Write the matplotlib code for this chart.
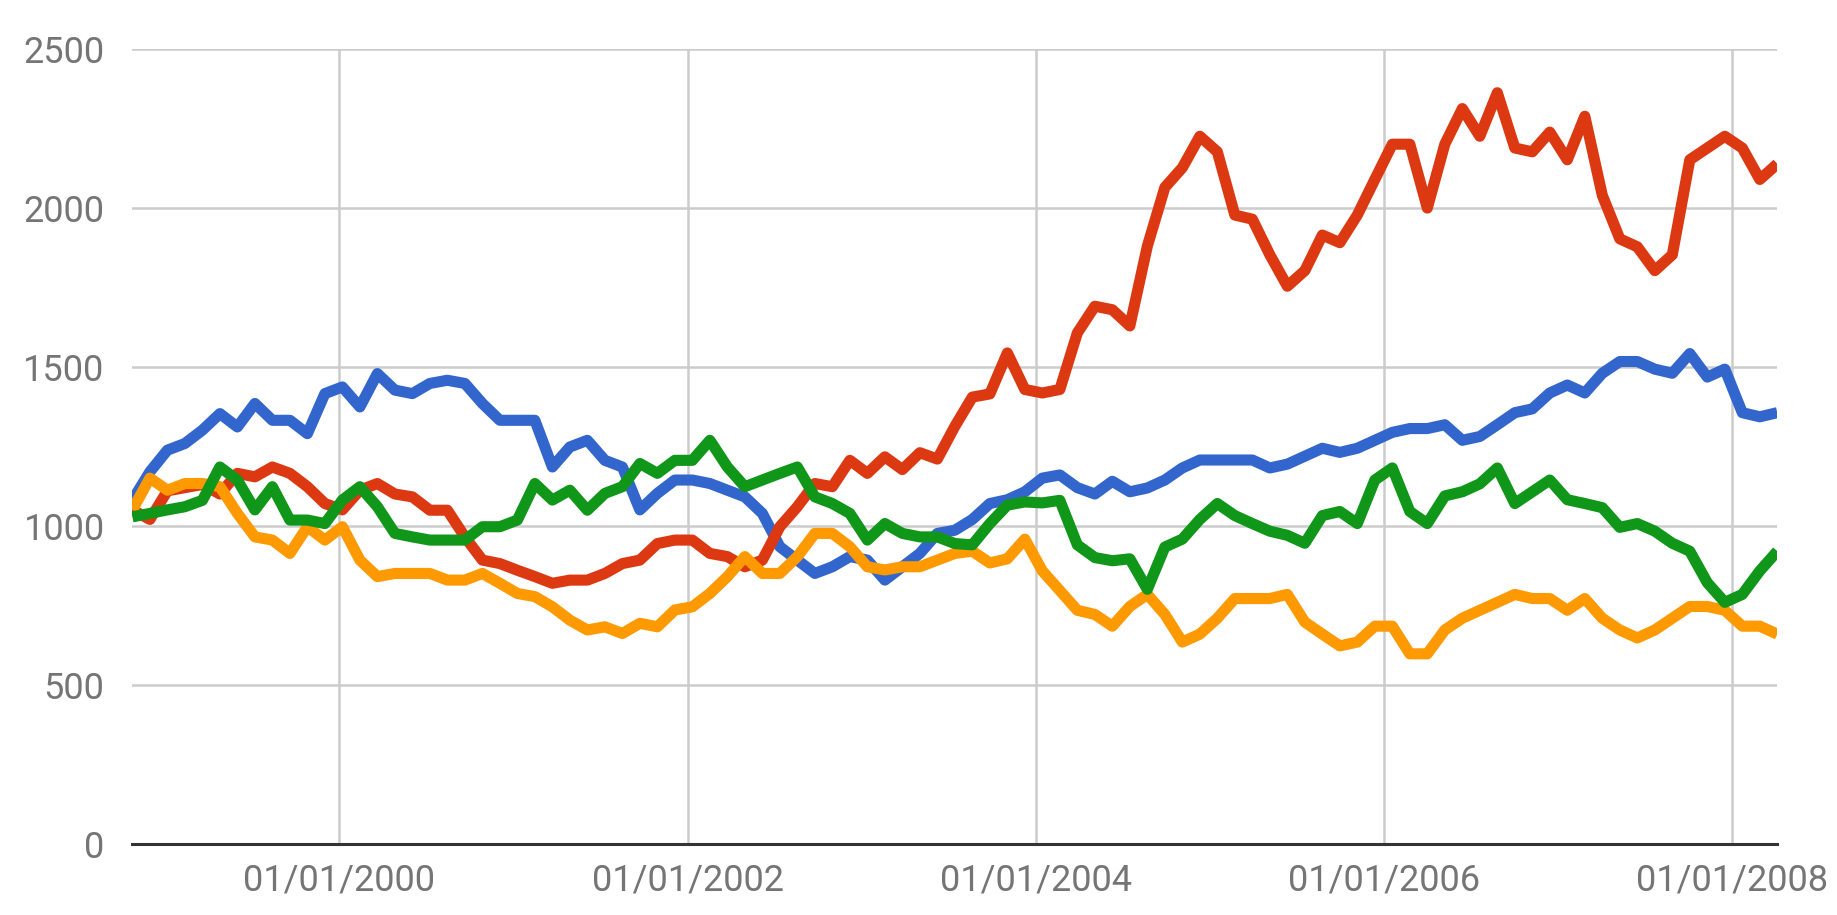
import numpy as np
import pandas as pd
import matplotlib
matplotlib.use("Agg")
import matplotlib.pyplot as plt

# ---- data (~37-day spacing) ----
start_date = "1998-10-25"
end_date = "2008-04-04"

blue = [1080, 1170, 1238, 1259, 1301, 1353, 1311, 1385, 1332, 1332, 1290, 1416, 1437, 1374, 1479, 1427,
        1416, 1448, 1458, 1448, 1385, 1332, 1332, 1332, 1185, 1248, 1269, 1206, 1185, 1050, 1102, 1144,
        1144, 1133, 1112, 1091, 1039, 934, 892, 850, 871, 903, 892, 829, 871, 913, 976, 986,
        1020, 1070, 1082, 1107, 1150, 1160, 1120, 1100, 1140, 1107, 1119, 1144, 1182, 1207, 1207, 1207,
        1207, 1182, 1194, 1219, 1244, 1231, 1244, 1269, 1294, 1306, 1306, 1318, 1269, 1281, 1318, 1356,
        1368, 1418, 1443, 1418, 1480, 1517, 1517, 1493, 1480, 1542, 1468, 1493, 1356, 1343, 1356]

red = [1050, 1020, 1110, 1120, 1130, 1100, 1165, 1154, 1185, 1165, 1123, 1070, 1050, 1112, 1133, 1100,
       1091, 1049, 1049, 965, 892, 881, 860, 840, 819, 829, 829, 850, 881, 892, 944, 955,
       955, 913, 903, 871, 892, 997, 1060, 1133, 1123, 1206, 1165, 1217, 1177, 1230, 1210, 1313,
       1405, 1415, 1544, 1429, 1418, 1429, 1607, 1691, 1680, 1629, 1880, 2065, 2127, 2226, 2177, 1978,
       1965, 1853, 1754, 1803, 1915, 1891, 1978, 2090, 2201, 2201, 2000, 2201, 2313, 2226, 2363, 2189,
       2177, 2239, 2152, 2289, 2040, 1903, 1878, 1803, 1853, 2152, 2189, 2226, 2189, 2090, 2139]

orange = [1050, 1150, 1112, 1133, 1133, 1123, 1039, 965, 955, 913, 997, 955, 997, 892, 840, 850,
          850, 850, 829, 829, 850, 819, 787, 777, 745, 703, 672, 682, 661, 693, 682, 735,
          745, 787, 840, 903, 850, 850, 903, 976, 976, 934, 871, 861, 871, 871, 892, 913,
          920, 883, 896, 958, 858, 796, 734, 721, 684, 746, 784, 721, 634, 659, 709, 771,
          771, 771, 784, 697, 659, 622, 634, 684, 684, 597, 597, 672, 709, 734, 759, 784,
          771, 771, 734, 771, 709, 672, 647, 672, 709, 746, 746, 734, 684, 684, 659]

green = [1028, 1039, 1050, 1060, 1080, 1185, 1144, 1050, 1123, 1018, 1018, 1007, 1081, 1123, 1060, 976,
         965, 955, 955, 955, 997, 997, 1018, 1133, 1081, 1112, 1049, 1102, 1123, 1196, 1165, 1206,
         1206, 1269, 1185, 1123, 1144, 1165, 1185, 1091, 1070, 1039, 955, 1007, 976, 965, 965, 944,
         940, 1007, 1065, 1075, 1072, 1080, 940, 900, 890, 896, 800, 933, 958, 1020, 1070, 1032,
         1007, 983, 970, 945, 1032, 1045, 1007, 1144, 1182, 1045, 1007, 1094, 1107, 1132, 1182, 1070,
         1107, 1144, 1082, 1070, 1057, 995, 1007, 983, 945, 920, 821, 759, 784, 858, 920]

series = [("blue", blue, "#3366cc"), ("red", red, "#dc3912"),
          ("orange", orange, "#ff9900"), ("green", green, "#109618")]

y_ticks = [0, 500, 1000, 1500, 2000, 2500]
x_tick_dates = ["2000-01-01", "2002-01-01", "2004-01-01", "2006-01-01", "2008-01-01"]

# ---- figure ----
plt.rcParams["font.family"] = ["Roboto", "DejaVu Sans"]
W, H = 1837, 915
fig = plt.figure(figsize=(W / 100, H / 100), dpi=100)
ax = fig.add_axes([132.4 / W, 71.5 / H, (1777.3 - 132.4) / W, (843.5 - 49.2) / H])

dates = pd.date_range(start_date, end_date, periods=len(blue))
for name, vals, col in series:
    ax.plot(dates, vals, color=col, lw=8, solid_joinstyle="round",
            solid_capstyle="butt", zorder=3)

ax.set_ylim(0, 2500)
ax.set_xlim(dates[0], dates[-1])
ax.set_yticks(y_ticks)
ax.set_yticklabels([str(v) for v in y_ticks])
xt = pd.to_datetime(x_tick_dates)
ax.set_xticks(xt)
ax.set_xticklabels([d.strftime("%d/%m/%Y") for d in xt])

ax.grid(True, color="#cccccc", lw=1.8, zorder=0)
for s in ["top", "right", "left"]:
    ax.spines[s].set_visible(False)
ax.spines["bottom"].set_color("#333333")
ax.spines["bottom"].set_linewidth(2.2)
ax.spines["bottom"].set_zorder(4)
ax.tick_params(axis="both", length=0, labelsize=26, labelcolor="#757575")
ax.tick_params(axis="y", pad=20)
ax.tick_params(axis="x", pad=14)

fig.savefig("out.png", dpi=100, facecolor="white")
